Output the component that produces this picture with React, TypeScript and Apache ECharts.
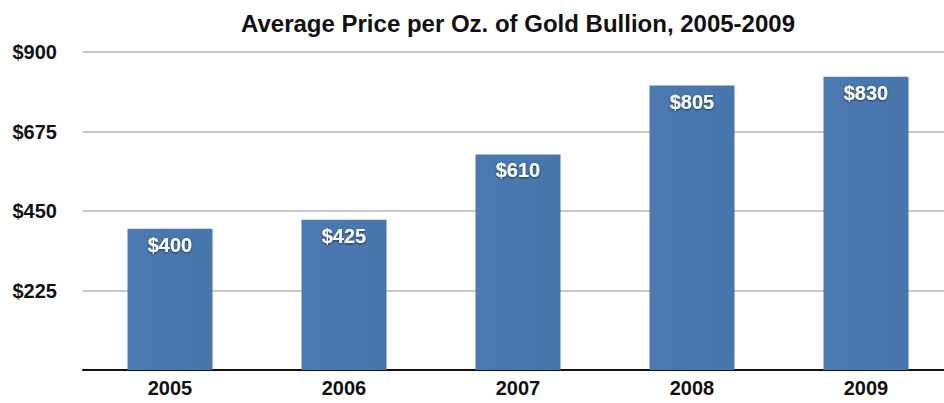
import React, { useEffect, useRef } from "react";
import * as echarts from "echarts";

const years = ["2005", "2006", "2007", "2008", "2009"];
const prices = [400, 425, 610, 805, 830];
const yTicks = [0, 225, 450, 675, 900];

export default function App() {
  const ref = useRef<HTMLDivElement>(null);
  useEffect(() => {
    const chart = echarts.init(ref.current!, null, { renderer: "svg" });
    chart.setOption({
      animation: false,
      backgroundColor: "#ffffff",
      title: {
        text: "Average Price per Oz. of Gold Bullion, 2005-2009",
        left: 513,
        textAlign: "center",
        top: 6,
        textStyle: {
          fontFamily: "Liberation Sans",
          fontWeight: "bold",
          fontSize: 24,
          color: "#111",
        },
      },
      grid: {
        left: 83,
        top: 52,
        width: 870,
        bottom: 33,
        containLabel: false,
        outerBoundsMode: "none",
      },
      xAxis: {
        type: "category",
        data: years,
        axisTick: { show: false },
        axisLine: { lineStyle: { color: "#111", width: 2 } },
        axisLabel: {
          fontFamily: "Liberation Sans",
          fontWeight: "bold",
          fontSize: 20,
          color: "#111",
          margin: 8,
        },
      },
      yAxis: {
        type: "value",
        min: yTicks[0],
        max: yTicks[yTicks.length - 1],
        interval: 225,
        axisLine: { show: false },
        axisTick: { show: false },
        splitLine: { lineStyle: { color: "#b4b4b4", width: 1.5 } },
        axisLabel: {
          fontFamily: "Liberation Sans",
          fontWeight: "bold",
          fontSize: 20,
          color: "#111",
          margin: 26,
          formatter: (v: number) => (v === 0 ? "" : "$" + v),
        },
      },
      series: [
        {
          type: "bar",
          data: prices,
          barWidth: 85,
          itemStyle: {
            color: new echarts.graphic.LinearGradient(0, 0, 1, 0, [
              { offset: 0, color: "#4b7ab2" },
              { offset: 1, color: "#4775ac" },
            ]),
          },
          label: {
            show: true,
            position: "insideTop",
            distance: 6,
            formatter: (p: any) => "$" + p.value,
            fontFamily: "Liberation Sans",
            fontWeight: "bold",
            fontSize: 20,
            color: "#ffffff",
            textShadowColor: "rgba(0,0,0,0.55)",
            textShadowBlur: 2,
            textShadowOffsetY: 1,
          },
        },
      ],
    });
    return () => chart.dispose();
  }, []);
  return <div ref={ref} style={{ width: 944, height: 403, position: "absolute", left: 0, top: 0 }} />;
}
